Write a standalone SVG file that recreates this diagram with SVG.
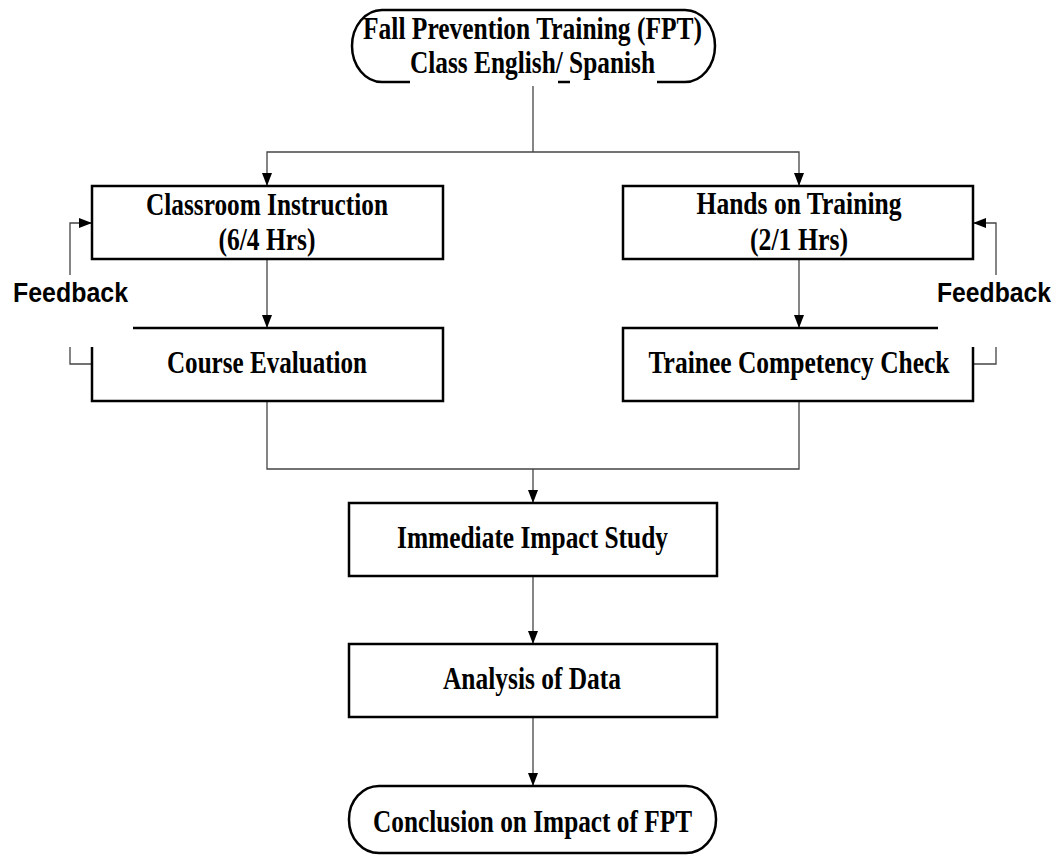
<svg xmlns="http://www.w3.org/2000/svg" width="1060" height="856" viewBox="0 0 1060 856">
<style>
.box{fill:#fff;stroke:#000;stroke-width:2.5}
.t{font-family:"Liberation Serif","Times New Roman",serif;font-weight:bold;font-size:31px;fill:#000;text-anchor:middle}
.fb{font-family:"Liberation Sans",Arial,sans-serif;font-weight:bold;font-size:27px;fill:#000}
.c{fill:none;stroke:#444;stroke-width:1.3}
</style>
<defs>
<marker id="ah" viewBox="0 0 13 10" markerWidth="13" markerHeight="10" refX="13" refY="5" orient="auto" markerUnits="userSpaceOnUse">
<path d="M0,0 L13,5 L0,10 z" fill="#000"/>
</marker>
</defs>
<rect width="1060" height="856" fill="#fff"/>
<g id="connectors">
<path class="c" d="M533,82 V152"/>
<path class="c" d="M533,152 H267 V186" marker-end="url(#ah)"/>
<path class="c" d="M533,152 H799 V186" marker-end="url(#ah)"/>
<path class="c" d="M267,259 V328" marker-end="url(#ah)"/>
<path class="c" d="M799,259 V328" marker-end="url(#ah)"/>
<path class="c" d="M267,401 V469 H799 V401"/>
<path class="c" d="M533,469 V503" marker-end="url(#ah)"/>
<path class="c" d="M533,576 V644" marker-end="url(#ah)"/>
<path class="c" d="M533,717 V786" marker-end="url(#ah)"/>
<path class="c" d="M70,275 V223 H92" marker-end="url(#ah)"/>
<path class="c" d="M70,347 V364 H92"/>
<path class="c" d="M996,275 V223 H973" marker-end="url(#ah)"/>
<path class="c" d="M996,347 V364 H973"/>
</g>
<g id="start">
<rect class="box" x="352" y="10" width="363" height="72" rx="30" ry="36"/>
<rect x="410" y="76" width="148" height="10" fill="#fff"/>
<rect x="570" y="76" width="87" height="10" fill="#fff"/>
<text class="t" x="532.5" y="39" textLength="339" lengthAdjust="spacingAndGlyphs">Fall Prevention Training (FPT)</text>
<text class="t" x="532.5" y="73" textLength="245" lengthAdjust="spacingAndGlyphs">Class English/ Spanish</text>
</g>
<g id="classroom">
<rect class="box" x="92" y="186" width="351" height="73"/>
<text class="t" x="267" y="215" textLength="242" lengthAdjust="spacingAndGlyphs">Classroom Instruction</text>
<text class="t" x="267" y="250" textLength="97" lengthAdjust="spacingAndGlyphs">(6/4 Hrs)</text>
</g>
<g id="hands">
<rect class="box" x="623" y="186" width="350" height="73"/>
<text class="t" x="799" y="214" textLength="205" lengthAdjust="spacingAndGlyphs">Hands on Training</text>
<text class="t" x="799" y="250" textLength="98" lengthAdjust="spacingAndGlyphs">(2/1 Hrs)</text>
</g>
<g id="course">
<path class="box" d="M133,328 H443 V401 H92 V347"/>
<text class="t" x="267" y="373" textLength="200" lengthAdjust="spacingAndGlyphs">Course Evaluation</text>
</g>
<g id="trainee">
<path class="box" d="M938,328 H623 V401 H973 V347"/>
<text class="t" x="799" y="373" textLength="301" lengthAdjust="spacingAndGlyphs">Trainee Competency Check</text>
</g>
<g id="feedback-left">
<text class="fb" x="13" y="302" textLength="115" lengthAdjust="spacingAndGlyphs">Feedback</text>
</g>
<g id="feedback-right">
<text class="fb" x="937" y="302" textLength="114" lengthAdjust="spacingAndGlyphs">Feedback</text>
</g>
<g id="immediate">
<rect class="box" x="349" y="503" width="368" height="73"/>
<text class="t" x="532.5" y="548" textLength="271" lengthAdjust="spacingAndGlyphs">Immediate Impact Study</text>
</g>
<g id="analysis">
<rect class="box" x="349" y="644" width="368" height="73"/>
<text class="t" x="532" y="689" textLength="178" lengthAdjust="spacingAndGlyphs">Analysis of Data</text>
</g>
<g id="conclusion">
<rect class="box" x="349" y="786" width="367" height="67" rx="30" ry="33"/>
<text class="t" x="532.5" y="832" textLength="319" lengthAdjust="spacingAndGlyphs">Conclusion on Impact of FPT</text>
</g>
</svg>
